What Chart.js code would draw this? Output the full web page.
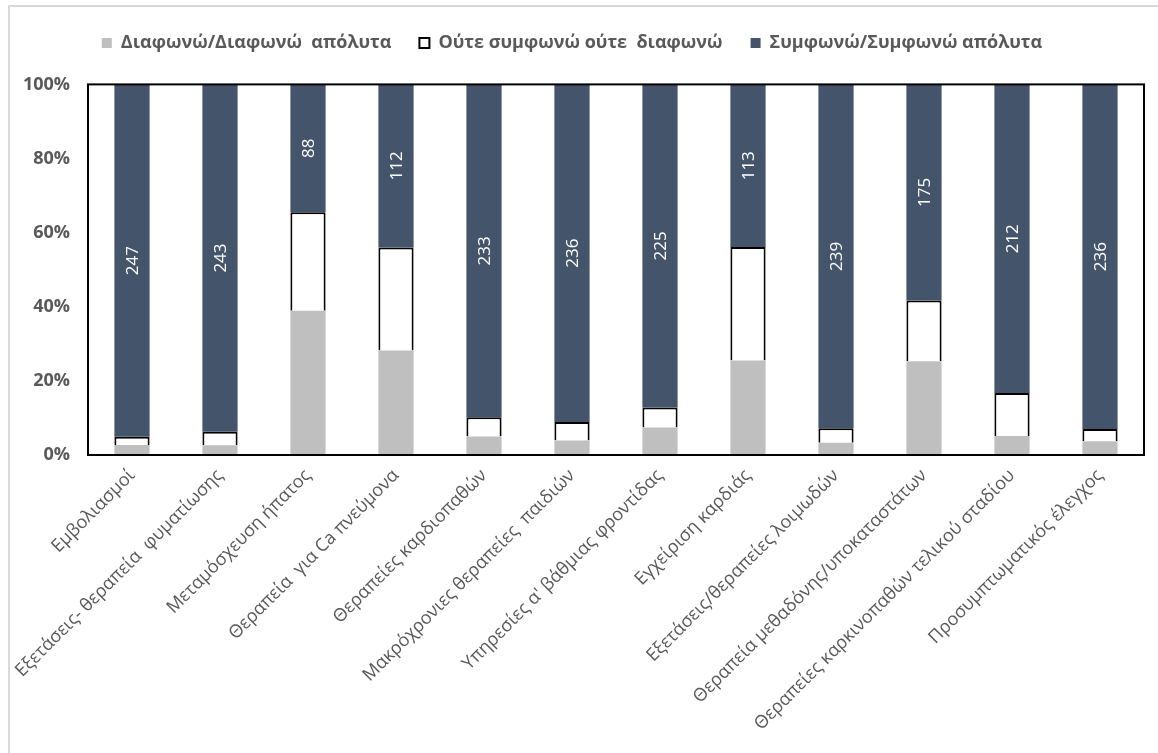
<!DOCTYPE html>
<html>
<head>
<meta charset="utf-8">
<script src="https://cdn.jsdelivr.net/npm/chart.js@4/dist/chart.umd.min.js"></script>
<style>
  html, body { margin: 0; padding: 0; background: #fff; }
  #wrap { position: relative; width: 1158px; height: 753px; overflow: hidden; }
  #frame { position: absolute; left: 8px; top: 5px; width: 1200px; height: 800px; border: 2px solid #d9d9d9; box-sizing: border-box; }
  canvas { position: absolute; left: 0; top: 0; }
</style>
</head>
<body>
<div id="wrap">
  <div id="frame"></div>
  <canvas id="chart" width="1158" height="753"></canvas>
</div>
<script>
const categories = [
    'Εμβολιασμοί',
    'Εξετάσεις- θεραπεία  φυματίωσης',
    'Μεταμόσχευση ήπατος',
    'Θεραπεία  για Ca πνεύμονα',
    'Θεραπείες καρδιοπαθών',
    'Μακρόχρονιες θεραπείες  παιδιών',
    'Υπηρεσίες α\' βάθμιας φροντίδας',
    'Εγχείριση καρδιάς',
    'Εξετάσεις/θεραπείες λοιμωδών',
    'Θεραπεία μεθαδόνης/υποκαταστάτων',
    'Θεραπείες καρκινοπαθών τελικού σταδίου',
    'Προσυμπτωματικός έλεγχος'
];

// percentages
const disagree = [2.7, 2.6, 38.9, 28.2, 5.0, 3.9, 7.4, 25.5, 3.3, 25.3, 5.1, 3.7];
const neutral  = [2.2, 3.7, 26.6, 27.8, 5.2, 5.0, 5.4, 30.6, 3.9, 16.4, 11.6, 3.3];
const agree    = [95.1, 93.7, 34.5, 44.0, 89.8, 91.1, 87.2, 43.9, 92.8, 58.3, 83.3, 93.0];

// counts printed inside the dark segments
const agreeCounts = [247, 243, 88, 112, 233, 236, 225, 113, 239, 175, 212, 236];

const yTicks = [0, 20, 40, 60, 80, 100];

const grey = '#595959';

const segmentLabels = {
    id: 'segmentLabels',
    afterDatasetsDraw(chart) {
        const ctx = chart.ctx;
        const meta = chart.getDatasetMeta(2);
        ctx.save();
        ctx.fillStyle = '#ffffff';
        ctx.font = '17px "Open Sans"';
        ctx.textAlign = 'center';
        ctx.textBaseline = 'middle';
        meta.data.forEach((bar, i) => {
            const cy = (bar.y + bar.base) / 2;
            ctx.save();
            ctx.translate(bar.x, cy);
            ctx.rotate(-Math.PI / 2);
            ctx.fillText(String(agreeCounts[i]), 0, 1);
            ctx.restore();
        });
        ctx.restore();
    }
};

const plotBorder = {
    id: 'plotBorder',
    afterDatasetsDraw(chart) {
        const a = chart.chartArea;
        const ctx = chart.ctx;
        ctx.save();
        ctx.strokeStyle = '#000';
        ctx.lineWidth = 2;
        ctx.strokeRect(a.left, a.top, a.right - a.left, a.bottom - a.top);
        ctx.restore();
    }
};

new Chart(document.getElementById('chart'), {
    type: 'bar',
    data: {
        labels: categories,
        datasets: [
            {
                label: 'Διαφωνώ/Διαφωνώ  απόλυτα',
                data: disagree,
                backgroundColor: '#bfbfbf',
                borderWidth: 0
            },
            {
                label: 'Ούτε συμφωνώ ούτε  διαφωνώ',
                data: neutral,
                backgroundColor: '#ffffff',
                borderColor: '#000000',
                borderWidth: 2
            },
            {
                label: 'Συμφωνώ/Συμφωνώ απόλυτα',
                data: agree,
                backgroundColor: '#44546a',
                borderWidth: 0
            }
        ]
    },
    options: {
        responsive: false,
        animation: false,
        layout: { padding: { left: 0, right: 14, top: 6, bottom: 0 } },
        datasets: {
            bar: { barPercentage: 0.4, categoryPercentage: 1.0 }
        },
        plugins: {
            legend: {
                position: 'top',
                labels: {
                    boxWidth: 10,
                    boxHeight: 10,
                    padding: 28,
                    color: grey,
                    font: { family: '"Open Sans"', size: 18, weight: 'bold' }
                }
            },
            // empty spacer between legend and plot
            subtitle: {
                display: true,
                text: ' ',
                weight: 500,
                padding: 4,
                font: { size: 12 }
            },
            tooltip: { enabled: false }
        },
        scales: {
            x: {
                stacked: true,
                grid: { display: false, drawTicks: false },
                border: { display: false },
                ticks: {
                    color: grey,
                    autoSkip: false,
                    maxRotation: 45,
                    minRotation: 45,
                    padding: 10,
                    font: { family: '"Open Sans"', size: 18 }
                },
                afterFit(scale) {
                    scale.height = 298;
                    scale.paddingLeft = 0;
                    scale.paddingRight = 0;
                }
            },
            y: {
                stacked: true,
                min: 0,
                max: 100,
                grid: { display: false, drawTicks: false },
                border: { display: false },
                afterBuildTicks(scale) {
                    scale.ticks = yTicks.map(v => ({ value: v }));
                },
                ticks: {
                    color: grey,
                    padding: 18,
                    font: { family: '"Open Sans"', size: 18, weight: 'bold' },
                    callback: v => v + '%'
                },
                afterFit(scale) { scale.width = 88; }
            }
        }
    },
    plugins: [segmentLabels, plotBorder]
});
</script>
</body>
</html>
